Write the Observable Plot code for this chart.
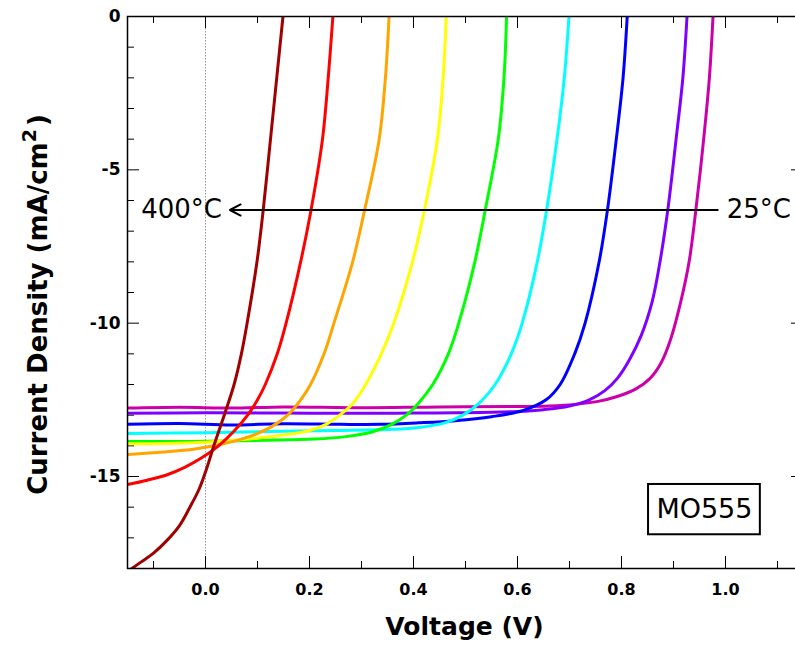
<!DOCTYPE html>
<html>
<head>
<meta charset="utf-8">
<script src="https://cdn.jsdelivr.net/npm/d3@7"></script>
<script src="https://cdn.jsdelivr.net/npm/@observablehq/plot@0.6"></script>
<style>
  html, body { margin: 0; padding: 0; background: white; overflow: hidden; }
  #chart { width: 795px; height: 654px; overflow: hidden; }
</style>
</head>
<body>
<div id="chart"></div>
<script>
// ---- Data ----
// curves from the highest annealing temperature (400°C, dark red) to 25°C (magenta)
const curveIds = ["T1", "T2", "T3", "T4", "T5", "T6", "T7", "T8", "T9"];
const curveColors = ["#a00000", "#ff0000", "#ffa500", "#ffff00", "#00ff00", "#00ffff", "#0000ff", "#8000ff", "#cc00aa"];

const darkredV = [-0.15, -0.125, -0.1, -0.075, -0.05, -0.03, -0.012, 0.003, 0.016, 0.036, 0.055, 0.069, 0.080, 0.099, 0.111, 0.125, 0.137, 0.149];
const darkredJ = [-18.1, -17.8, -17.5, -17.1, -16.6, -16.0, -15.4, -14.7, -14.0, -13.0, -12.0, -11.0, -10.0, -8.0, -6.31, -4.0, -2.0, 0];

const redV = [-0.15, -0.112, -0.075, -0.04, -0.008, 0.025, 0.056, 0.081, 0.100, 0.115, 0.138, 0.155, 0.183, 0.203, 0.225, 0.236, 0.245];
const redJ = [-15.26, -15.12, -14.95, -14.7, -14.4, -14.0, -13.5, -13.0, -12.5, -12.0, -11.0, -10.0, -8.0, -6.31, -4.0, -2.0, 0];

const orangeV = [-0.15, -0.08, -0.02, 0.03, 0.075, 0.125, 0.158, 0.183, 0.202, 0.228, 0.247, 0.283, 0.306, 0.334, 0.346, 0.353];
const orangeJ = [-14.28, -14.2, -14.1, -13.95, -13.75, -13.4, -13.0, -12.5, -12.0, -11.0, -10.0, -8.0, -6.31, -4.0, -2.0, 0];

const yellowV = [-0.15, -0.08, 0.0, 0.05, 0.10, 0.15, 0.20, 0.232, 0.258, 0.284, 0.308, 0.338, 0.362, 0.398, 0.421, 0.446, 0.457, 0.463];
const yellowJ = [-13.93, -13.92, -13.88, -13.83, -13.75, -13.65, -13.5, -13.3, -13.0, -12.6, -12.0, -11.0, -10.0, -8.0, -6.31, -4.0, -2.0, 0];

const greenV = [-0.15, -0.05, 0.0, 0.12, 0.21, 0.27, 0.32, 0.358, 0.386, 0.41, 0.437, 0.467, 0.487, 0.518, 0.538, 0.563, 0.574, 0.579];
const greenJ = [-13.86, -13.86, -13.85, -13.82, -13.78, -13.7, -13.55, -13.3, -13.0, -12.6, -12.0, -11.0, -10.0, -8.0, -6.31, -4.0, -2.0, 0];

const cyanV = [-0.15, 0.0, 0.1, 0.25, 0.36, 0.41, 0.46, 0.495, 0.527, 0.557, 0.588, 0.609, 0.638, 0.656, 0.676, 0.690, 0.699];
const cyanJ = [-13.6, -13.57, -13.54, -13.5, -13.46, -13.4, -13.25, -13.0, -12.6, -12.0, -11.0, -10.0, -8.0, -6.31, -4.0, -2.0, 0];

const blueV = [-0.15, -0.05, 0.05, 0.15, 0.26, 0.337, 0.41, 0.48, 0.55, 0.61, 0.655, 0.682, 0.71, 0.73, 0.757, 0.773, 0.79, 0.803, 0.811];
const blueJ = [-13.3, -13.27, -13.32, -13.28, -13.3, -13.3, -13.25, -13.18, -13.05, -12.85, -12.5, -12.0, -11.0, -10.0, -8.0, -6.31, -4.0, -2.0, 0];

const violetV = [-0.15, 0.0, 0.15, 0.3, 0.4, 0.5, 0.6, 0.65, 0.7, 0.738, 0.768, 0.792, 0.815, 0.838, 0.859, 0.874, 0.889, 0.905, 0.918, 0.926];
const violetJ = [-12.94, -12.92, -12.93, -12.94, -12.93, -12.92, -12.88, -12.82, -12.7, -12.5, -12.2, -11.8, -11.2, -10.4, -9.3, -8.0, -6.31, -4.0, -2.0, 0];

const magentaV = [-0.15, -0.05, 0.05, 0.15, 0.3, 0.45, 0.6, 0.66, 0.71, 0.755, 0.79, 0.827, 0.855, 0.876, 0.895, 0.914, 0.93, 0.943, 0.958, 0.969, 0.976];
const magentaJ = [-12.77, -12.74, -12.77, -12.73, -12.76, -12.73, -12.72, -12.7, -12.65, -12.55, -12.4, -12.15, -11.8, -11.3, -10.5, -9.3, -8.0, -6.31, -4.0, -2.0, 0];

// Axis ticks
const xMajor = [0, 0.2, 0.4, 0.6, 0.8, 1.0];
const xMinor = [-0.1, 0.1, 0.3, 0.5, 0.7, 0.9, 1.1];
const yMajor = [0, -5, -10, -15];
const yMinor = [-1, -2, -3, -4, -6, -7, -8, -9, -11, -12, -13, -14, -16, -17];

// Annotations
const arrowV = [0.985, 0.047];
const arrowJ = -6.31;
const arrowLabels = ["25°C", "400°C"];
const sampleName = "MO555";
const sampleBoxV = [0.852, 1.067];
const sampleBoxJ = [-16.9, -15.26];
const xTitle = "Voltage (V)";
const yTitle = ["Current Density (mA/cm", "2", ")"];

// ---- Build rows ----
const seriesV = [darkredV, redV, orangeV, yellowV, greenV, cyanV, blueV, violetV, magentaV];
const seriesJ = [darkredJ, redJ, orangeJ, yellowJ, greenJ, cyanJ, blueJ, violetJ, magentaJ];
const rows = [];
for (let k = curveIds.length - 1; k >= 0; k--) {
  seriesV[k].forEach((v, i) => rows.push({curve: curveIds[k], V: v, J: seriesJ[k][i]}));
}

const FRAME_W = 676, FRAME_H = 552, MAJ = 12, MIN = 7;
const font = "DejaVu Sans";

const chart = Plot.plot({
  width: 795,
  height: 654,
  marginLeft: 127,
  marginRight: -8,
  marginTop: 16,
  marginBottom: 86,
  style: {fontFamily: font, background: "white", overflow: "hidden"},
  x: {domain: [-0.15, 1.15]},
  y: {domain: [-18, 0]},
  color: {type: "ordinal", domain: curveIds, range: curveColors},
  marks: [
    Plot.ruleX([0], {stroke: "#999", strokeWidth: 1, strokeDasharray: "1.5,1.5"}),
    // ticks (inward), bottom & top
    Plot.ruleX(xMajor, {insetTop: FRAME_H - MAJ, stroke: "black", strokeWidth: 1}),
    Plot.ruleX(xMinor, {insetTop: FRAME_H - MIN, stroke: "black", strokeWidth: 1}),
    Plot.ruleX(xMajor, {insetBottom: FRAME_H - MAJ, stroke: "black", strokeWidth: 1}),
    Plot.ruleX(xMinor, {insetBottom: FRAME_H - MIN, stroke: "black", strokeWidth: 1}),
    // ticks (inward), left & right
    Plot.ruleY(yMajor, {insetRight: FRAME_W - MAJ, stroke: "black", strokeWidth: 1}),
    Plot.ruleY(yMinor, {insetRight: FRAME_W - MIN, stroke: "black", strokeWidth: 1}),
    Plot.ruleY(yMajor, {insetLeft: FRAME_W - MAJ, stroke: "black", strokeWidth: 1}),
    Plot.ruleY(yMinor, {insetLeft: FRAME_W - MIN, stroke: "black", strokeWidth: 1}),
    // curves
    Plot.line(rows, {x: "V", y: "J", z: "curve", stroke: "curve", strokeWidth: 3, curve: "catmull-rom", clip: true}),
    // arrow annotation
    Plot.arrow([{x1: arrowV[0], x2: arrowV[1], y: arrowJ}], {x1: "x1", x2: "x2", y1: "y", y2: "y", stroke: "black", strokeWidth: 2, headLength: 9, headAngle: 55}),
    Plot.text([{x: arrowV[0], y: arrowJ, t: arrowLabels[0]}], {x: "x", y: "y", text: "t", textAnchor: "start", dx: 9, fontSize: 26, fill: "black"}),
    Plot.text([{x: arrowV[1], y: arrowJ, t: arrowLabels[1]}], {x: "x", y: "y", text: "t", textAnchor: "end", dx: -8, fontSize: 26, fill: "black"}),
    // sample box
    Plot.rect([{x1: sampleBoxV[0], x2: sampleBoxV[1], y1: sampleBoxJ[0], y2: sampleBoxJ[1]}], {x1: "x1", x2: "x2", y1: "y1", y2: "y2", fill: "white", stroke: "black", strokeWidth: 2}),
    Plot.text([{x: (sampleBoxV[0] + sampleBoxV[1]) / 2, y: (sampleBoxJ[0] + sampleBoxJ[1]) / 2, t: sampleName}], {x: "x", y: "y", text: "t", fontSize: 27, fill: "black"}),
    // frame
    Plot.frame({stroke: "black", strokeWidth: 1.5}),
    // axis labels
    Plot.axisX(xMajor, {anchor: "bottom", tickSize: 0, tickPadding: 15, tickFormat: d => d.toFixed(1), fontSize: 16, fontWeight: "bold", label: null}),
    Plot.axisY(yMajor, {anchor: "left", tickSize: 0, tickPadding: 7, tickFormat: d => String(d), fontSize: 17, fontWeight: "bold", label: null}),
    // axis titles
    Plot.text([xTitle], {frameAnchor: "bottom", dy: 66, fontSize: 25, fontWeight: "bold", fill: "black", dx: -1}),
    Plot.text([yTitle.join("")], {frameAnchor: "left", textAnchor: "middle", rotate: -90, dx: -89, dy: 12, fontSize: 26, fontWeight: "bold", fill: "black", className: "ytitle"})
  ]
});
document.getElementById("chart").appendChild(chart);

// Render the "2" of cm2 as a real superscript
d3.select(chart).selectAll("text").filter(function () { return this.textContent === yTitle.join(""); }).each(function () {
  const t = d3.select(this);
  t.text(null);
  t.append("tspan").text(yTitle[0]);
  t.append("tspan").attr("dy", -11).attr("font-size", 19).text(yTitle[1]);
  t.append("tspan").attr("dy", 11).attr("dx", 3).text(yTitle[2]);
});
</script>
</body>
</html>
